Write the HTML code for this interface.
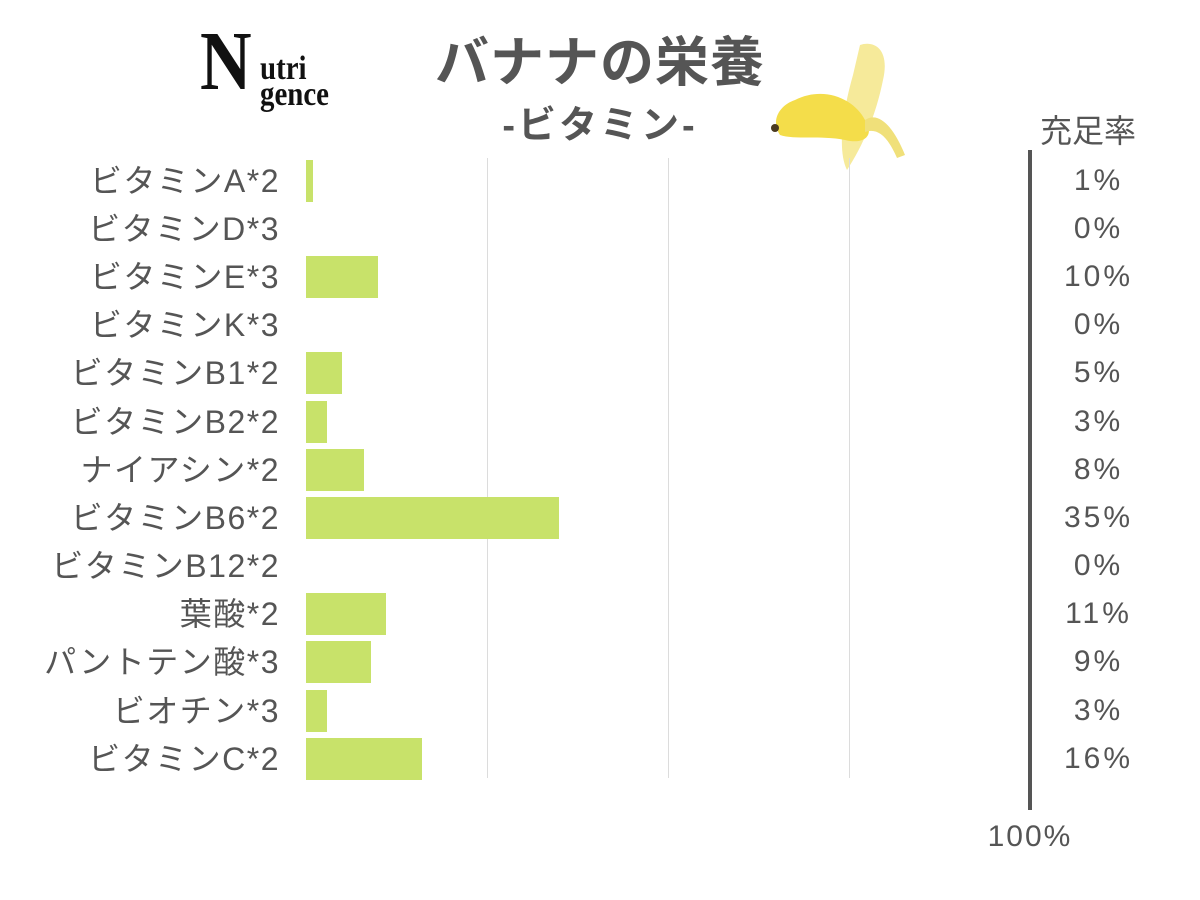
<!DOCTYPE html>
<html><head><meta charset="utf-8"><style>
body{margin:0;width:1200px;height:900px;background:#fff;position:relative;overflow:hidden;font-family:"Liberation Sans","Noto Sans CJK JP",sans-serif;color:#555}
.a{position:absolute}
.lab{position:absolute;right:920px;font-size:32px;line-height:34px;white-space:nowrap;letter-spacing:1.5px}
.pct{position:absolute;left:1040px;width:114px;text-align:center;font-size:30px;line-height:32px;letter-spacing:3px;text-indent:3px}
.bar{position:absolute;left:306px;height:42px;background:#c8e26a}
.g{position:absolute;top:158px;height:620px;width:1px;background:#dcdcdc}
</style></head><body>
<div class="a" style="left:200px;top:20px;font-family:'Liberation Serif',serif;font-weight:bold;color:#111;font-size:84px;line-height:84px;transform:scaleX(0.85);transform-origin:left">N</div>
<div class="a" style="left:260px;top:56px;font-family:'Liberation Serif',serif;font-weight:bold;color:#111;font-size:34px;line-height:26px;transform:scaleX(0.85);transform-origin:left">utri<br>gence</div>
<div class="a" style="left:400px;top:32px;width:400px;text-align:center;font-size:54px;font-weight:bold;color:#555;line-height:62px;letter-spacing:1px">バナナの栄養</div>
<div class="a" style="left:400px;top:104px;width:400px;text-align:center;font-size:38px;font-weight:bold;color:#555;line-height:44px;letter-spacing:3px">-ビタミン-</div>
<svg class="a" style="left:765px;top:40px" width="150" height="140">
<path d="M95 5 C110 0 125 10 118 40 C110 80 95 110 82 130 C72 110 78 70 88 35 Z" fill="#f6ea9a"/>
<path d="M30 60 C60 45 90 60 100 80 C110 95 100 105 80 100 C55 95 30 100 15 95 C5 80 15 65 30 60 Z" fill="#f4dd4a"/>
<path d="M100 80 C115 70 130 90 140 115 L132 118 C122 95 112 88 100 92 Z" fill="#f0e07a"/>
<circle cx="10" cy="88" r="4" fill="#4a3a20"/>
</svg>
<div class="a" style="left:1028px;top:106px;width:120px;text-align:center;font-size:32px">充足率</div>
<div class="g" style="left:487px"></div><div class="g" style="left:668px"></div><div class="g" style="left:849px"></div>
<div class="a" style="left:1028px;top:150px;width:4px;height:660px;background:#555"></div>
<div class="a" style="left:980px;top:820px;width:100px;text-align:center;font-size:30px;letter-spacing:2px">100%</div>

<div class="lab" style="top:164px">ビタミンA*2</div><div class="bar" style="top:160px;width:7px"></div><div class="pct" style="top:165px">1%</div>
<div class="lab" style="top:212px">ビタミンD*3</div><div class="pct" style="top:213px">0%</div>
<div class="lab" style="top:260px">ビタミンE*3</div><div class="bar" style="top:256px;width:72px"></div><div class="pct" style="top:261px">10%</div>
<div class="lab" style="top:308px">ビタミンK*3</div><div class="pct" style="top:309px">0%</div>
<div class="lab" style="top:356px">ビタミンB1*2</div><div class="bar" style="top:352px;width:36px"></div><div class="pct" style="top:357px">5%</div>
<div class="lab" style="top:405px">ビタミンB2*2</div><div class="bar" style="top:401px;width:21px"></div><div class="pct" style="top:406px">3%</div>
<div class="lab" style="top:453px">ナイアシン*2</div><div class="bar" style="top:449px;width:58px"></div><div class="pct" style="top:454px">8%</div>
<div class="lab" style="top:501px">ビタミンB6*2</div><div class="bar" style="top:497px;width:253px"></div><div class="pct" style="top:502px">35%</div>
<div class="lab" style="top:549px">ビタミンB12*2</div><div class="pct" style="top:550px">0%</div>
<div class="lab" style="top:597px">葉酸*2</div><div class="bar" style="top:593px;width:80px"></div><div class="pct" style="top:598px">11%</div>
<div class="lab" style="top:645px">パントテン酸*3</div><div class="bar" style="top:641px;width:65px"></div><div class="pct" style="top:646px">9%</div>
<div class="lab" style="top:694px">ビオチン*3</div><div class="bar" style="top:690px;width:21px"></div><div class="pct" style="top:695px">3%</div>
<div class="lab" style="top:742px">ビタミンC*2</div><div class="bar" style="top:738px;width:116px"></div><div class="pct" style="top:743px">16%</div>
</body></html>
